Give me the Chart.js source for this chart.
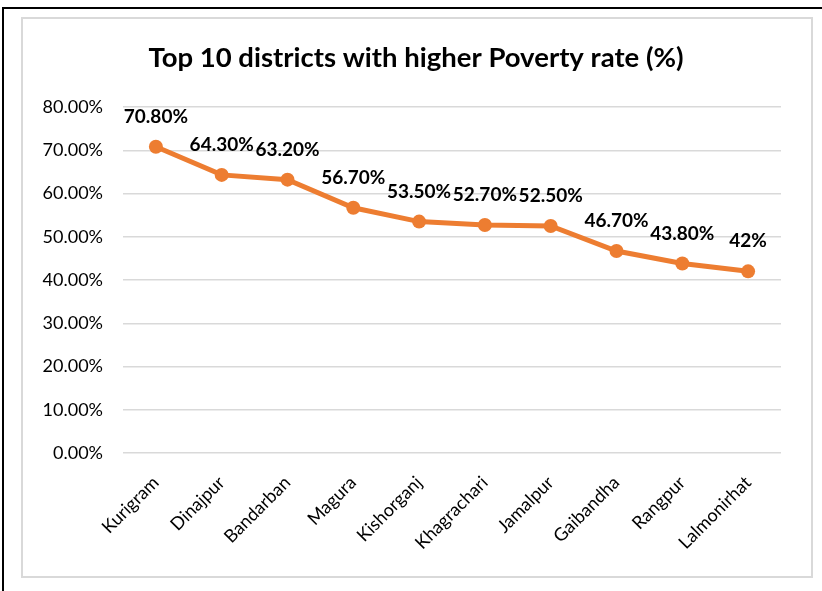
<!DOCTYPE html>
<html>
<head>
<meta charset="utf-8">
<script src="https://cdn.jsdelivr.net/npm/chart.js@4/dist/chart.umd.min.js"></script>
<style>
  html, body { margin: 0; padding: 0; background: #fff; overflow: hidden; }
  #page { position: relative; width: 822px; height: 591px; overflow: hidden; }
  #frame {
    position: absolute; left: 2px; top: 7px; width: 900px; height: 700px;
    border-left: 2px solid #000; border-top: 2px solid #000;
  }
  #box {
    position: absolute; left: 21px; top: 17px; width: 788px; height: 557px;
    border: 2px solid #d9d9d9;
  }
  #wrap { position: absolute; left: 0; top: 0; width: 822px; height: 591px; }
</style>
</head>
<body>
<div id="page">
  <div id="frame"></div>
  <div id="box"></div>
  <div id="wrap"><canvas id="povertyChart" width="822" height="591"></canvas></div>
</div>
<script>
const districts = ["Kurigram", "Dinajpur", "Bandarban", "Magura", "Kishorganj",
                   "Khagrachari", "Jamalpur", "Gaibandha", "Rangpur", "Lalmonirhat"];
const povertyRate = [70.8, 64.3, 63.2, 56.7, 53.5, 52.7, 52.5, 46.7, 43.8, 42];
const yTicks = [0, 10, 20, 30, 40, 50, 60, 70, 80];

const ORANGE = "#ED7D31";
const FONT = "Lato, 'Open Sans', sans-serif";

// value labels above each point
const pointLabels = {
    id: "pointLabels",
    afterDatasetsDraw(chart) {
        const ctx = chart.ctx;
        const meta = chart.getDatasetMeta(0);
        ctx.save();
        ctx.font = "bold 19px " + FONT;
        ctx.fillStyle = "#000";
        ctx.textAlign = "center";
        ctx.textBaseline = "middle";
        meta.data.forEach((pt, i) => {
            const v = povertyRate[i];
            const txt = Number.isInteger(v) ? v + "%" : v.toFixed(2) + "%";
            ctx.fillText(txt, pt.x, pt.y - 30);
        });
        ctx.restore();
    }
};

// center the title over the framed box rather than the padded layout
const titleCenter = {
    id: "titleCenter",
    afterLayout(chart) {
        if (chart.titleBlock) {
            chart.titleBlock.left = 22;
            chart.titleBlock.right = 810;
        }
    }
};

const ctx = document.getElementById("povertyChart").getContext("2d");

new Chart(ctx, {
    type: "line",
    data: {
        labels: districts,
        datasets: [{
            data: povertyRate,
            borderColor: ORANGE,
            backgroundColor: ORANGE,
            borderWidth: 5,
            pointRadius: 7,
            pointBackgroundColor: ORANGE,
            pointBorderWidth: 0,
            tension: 0
        }]
    },
    options: {
        responsive: false,
        animation: false,
        layout: { padding: { left: 0, right: 41, top: 0, bottom: 0 } },
        plugins: {
            legend: { display: false },
            tooltip: { enabled: false },
            title: {
                display: true,
                text: "Top 10 districts with higher Poverty rate (%)",
                color: "#000",
                font: { family: FONT, size: 27.5, weight: "bold", lineHeight: 1.2 },
                padding: { top: 42, bottom: 32 }
            }
        },
        scales: {
            x: {
                offset: true,
                grid: { display: false },
                border: { display: false },
                ticks: {
                    color: "#000",
                    font: { family: FONT, size: 18 },
                    minRotation: 45,
                    maxRotation: 45,
                    padding: 11
                },
                afterFit(scale) { scale.height = 138; }
            },
            y: {
                min: 0,
                max: 80,
                afterBuildTicks(scale) { scale.ticks = yTicks.map(v => ({ value: v })); },
                grid: { color: "#d9d9d9", lineWidth: 1.5, drawTicks: false },
                border: { display: false },
                ticks: {
                    color: "#000",
                    font: { family: FONT, size: 18 },
                    padding: 20,
                    callback: v => v.toFixed(2) + "%"
                },
                afterFit(scale) { scale.width = 123; }
            }
        }
    },
    plugins: [pointLabels, titleCenter]
});
</script>
</body>
</html>
